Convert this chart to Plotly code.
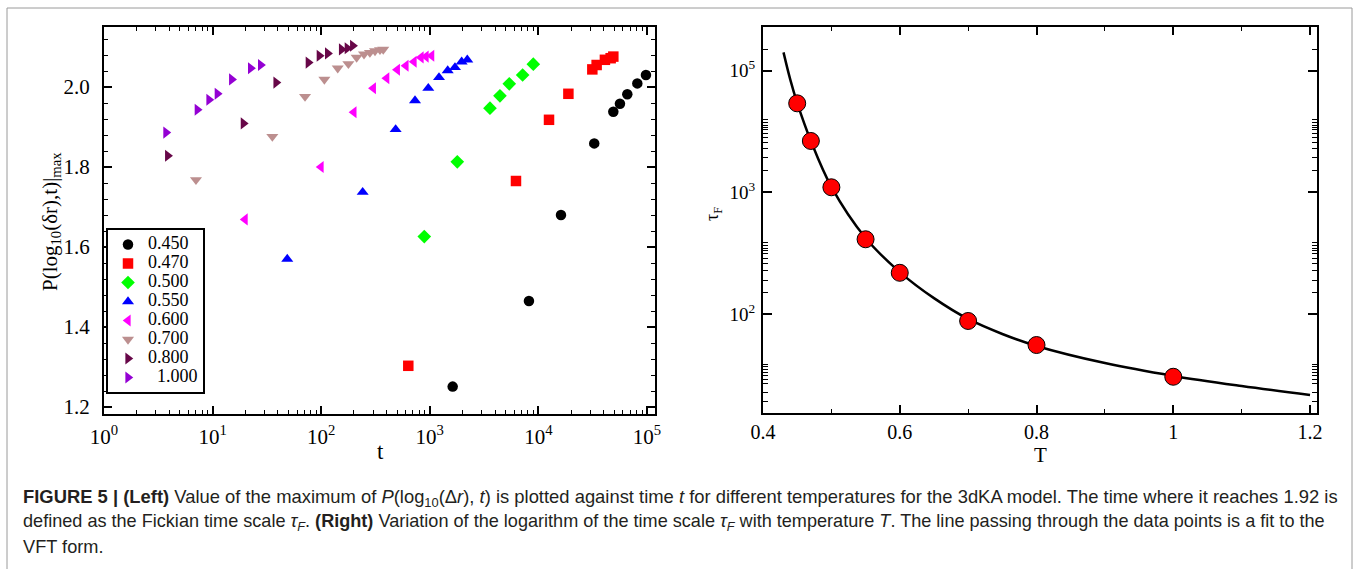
import plotly.graph_objects as go

W, H = 1360, 569

# ---------------- Left panel data ----------------
temps = ["0.450", "0.470", "0.500", "0.550", "0.600", "0.700", "0.800", "\u00a0\u00a01.000"]
symbols = ["circle", "square", "diamond", "triangle-up", "triangle-left",
           "triangle-down", "triangle-right", "triangle-right"]
colors = ["#000000", "#ff0000", "#00ff00", "#0000ff", "#ff00ff",
          "#bc8f8f", "#670748", "#9400d3"]

t_045 = [1625, 8190, 16150, 32700, 49000, 56400, 65900, 81500, 97900]
p_045 = [1.251, 1.465, 1.680, 1.859, 1.938, 1.958, 1.982, 2.009, 2.030]

t_047 = [634, 6220, 12530, 18900, 31400, 34400, 41000, 46300, 49000]
p_047 = [1.303, 1.765, 1.918, 1.983, 2.044, 2.055, 2.068, 2.072, 2.076]

t_050 = [890, 1792, 3583, 4428, 5395, 7163, 8980]
p_050 = [1.626, 1.813, 1.947, 1.978, 2.008, 2.030, 2.057]

t_055 = [48.7, 241, 485, 731, 969, 1216, 1462, 1706, 1966, 2215]
p_055 = [1.570, 1.737, 1.894, 1.966, 1.997, 2.024, 2.041, 2.049, 2.063, 2.068]

t_060 = [19.9, 99.6, 200, 302, 401, 502, 603, 716, 830, 923, 1040]
p_060 = [1.669, 1.800, 1.937, 1.997, 2.022, 2.043, 2.053, 2.063, 2.074, 2.076, 2.078]

t_070 = [7.03, 35.5, 71.0, 107, 142, 178, 212, 248, 281, 313, 348, 373]
p_070 = [1.768, 1.876, 1.976, 2.019, 2.047, 2.058, 2.074, 2.082, 2.086, 2.090, 2.093, 2.094]

t_080 = [3.86, 19.2, 38.4, 76.1, 96.1, 114.7, 154, 174, 195]
p_080 = [1.828, 1.909, 2.011, 2.061, 2.078, 2.084, 2.094, 2.097, 2.103]

t_100 = [3.72, 7.23, 9.27, 11.06, 15.0, 22.4, 27.7]
p_100 = [1.886, 1.943, 1.968, 1.983, 2.019, 2.047, 2.055]

left_t = [t_045, t_047, t_050, t_055, t_060, t_070, t_080, t_100]
left_p = [p_045, p_047, p_050, p_055, p_060, p_070, p_080, p_100]

left_xtickvals = [1, 10, 100, 1000, 10000, 100000]
left_xticktext = ["10<sup>0</sup>", "10<sup>1</sup>", "10<sup>2</sup>",
                  "10<sup>3</sup>", "10<sup>4</sup>", "10<sup>5</sup>"]
left_ytickvals = [1.2, 1.4, 1.6, 1.8, 2.0]
left_yticktext = ["1.2", "1.4", "1.6", "1.8", "2.0"]

# ---------------- Right panel data ----------------
T_pts = [0.45, 0.47, 0.50, 0.55, 0.60, 0.70, 0.80, 1.00]
tau_pts = [5380, 2640, 1099, 411, 218, 87.6, 55.6, 30.5]

T_fit = [0.43, 0.44, 0.45, 0.47, 0.50, 0.55, 0.60, 0.65, 0.70, 0.75, 0.80, 0.90, 1.00, 1.10, 1.20]
tau_fit = [14100, 8380, 5420, 2640, 1107, 421, 221, 135, 91, 68.5, 54.6, 39.5, 31.0, 25.6, 21.6]

right_xtickvals = [0.4, 0.6, 0.8, 1.0, 1.2]
right_xticktext = ["0.4", "0.6", "0.8", "1", "1.2"]
right_ytick_exp = [2.0, 3.0, 3.999]
right_yticktext = ["10<sup>2</sup>", "10<sup>3</sup>", "10<sup>5</sup>"]
right_yminor_exp = [4.175,
                    3.594, 3.572, 3.551, 3.531, 3.512, 3.485, 3.452, 3.413, 3.362, 3.288, 3.177,
                    2.586, 2.565, 2.542, 2.520, 2.493, 2.458, 2.417, 2.356, 2.279, 2.178,
                    1.589, 1.567, 1.546, 1.521, 1.497, 1.463, 1.425, 1.359, 1.279]

caption_lines = [
    "<b>FIGURE 5 | (Left)</b> Value of the maximum of <i>P</i>(log<sub>10</sub>(Δ<i>r</i>), <i>t</i>) is plotted "
    "against time <i>t</i> for different temperatures for the 3dKA model. The time where it reaches 1.92 is",
    "defined as the Fickian time scale <i>τ<sub>F</sub></i>. <b>(Right)</b> Variation of the logarithm of the "
    "time scale <i>τ<sub>F</sub></i> with temperature <i>T</i>. The line passing through the data points is a fit to the",
    "VFT form.",
]
caption_sizes = [18.4, 18.1, 18.2]

# ---------------- Figure ----------------
SERIF = "Liberation Serif, Times New Roman, serif"
CAP = "Liberation Sans, Arial, sans-serif"

fig = go.Figure()

for name, sym, col, tt, pp in zip(temps, symbols, colors, left_t, left_p):
    fig.add_trace(go.Scatter(
        x=tt, y=pp, mode="markers",
        name='<span style="font-size:18px">' + name + "</span>",
        marker=dict(symbol=sym, color=col, size=10.5, line=dict(width=0)),
        xaxis="x", yaxis="y", showlegend=True))

fig.add_trace(go.Scatter(
    x=T_fit, y=tau_fit, mode="lines", line=dict(color="black", width=2.5, shape="spline"),
    xaxis="x2", yaxis="y2", showlegend=False))
fig.add_trace(go.Scatter(
    x=T_pts, y=tau_pts, mode="markers",
    marker=dict(symbol="circle", color="#ff0000", size=17, line=dict(color="black", width=1)),
    xaxis="x2", yaxis="y2", showlegend=False))

def px_x(p):
    return p / W

def px_y(p):
    return 1 - p / H

minor_x_left = [k * 10 ** n for n in range(0, 5) for k in range(2, 10)]

common = dict(showline=True, linecolor="black", linewidth=2, mirror="allticks",
              ticks="inside", tickcolor="black", tickwidth=1.5, showgrid=False,
              zeroline=False, automargin=False,
              tickfont=dict(family=SERIF, size=21, color="black"))

fig.update_layout(
    width=W, height=H, margin=dict(l=0, r=0, t=0, b=0, pad=0, autoexpand=False),
    paper_bgcolor="white", plot_bgcolor="white",
    xaxis=dict(domain=[px_x(104), px_x(655)], type="log", range=[0, 5.074],
               anchor="y", tickmode="array", tickvals=left_xtickvals, ticktext=left_xticktext,
               ticklen=8, ticklabelstandoff=3,
               minor=dict(tickmode="array", tickvals=minor_x_left, ticks="inside", ticklen=4,
                          tickcolor="black", tickwidth=1),
               **common),
    yaxis=dict(domain=[px_y(414), px_y(27)], range=[1.1825, 2.15], anchor="x",
               tickmode="array", tickvals=left_ytickvals, ticktext=left_yticktext,
               ticklen=8, ticklabelstandoff=8,
               minor=dict(tickmode="linear", tick0=1.2, dtick=0.04, ticks="inside", ticklen=4,
                          tickcolor="black", tickwidth=1),
               **common),
    xaxis2=dict(domain=[px_x(763), px_x(1317)], range=[0.4, 1.2102], anchor="y2",
                tickmode="array", tickvals=right_xtickvals, ticktext=right_xticktext,
                ticklen=8, ticklabelstandoff=0,
                minor=dict(tickmode="linear", tick0=0.5, dtick=0.2, ticks="inside", ticklen=4,
                           tickcolor="black", tickwidth=1),
                **{**common, "tickfont": dict(family=SERIF, size=20, color="black")}),
    yaxis2=dict(domain=[px_y(413), px_y(27)], type="log", range=[1.1865, 4.358], anchor="x2",
                tickmode="array", tickvals=[10 ** e for e in right_ytick_exp], ticktext=right_yticktext,
                ticklen=9, ticklabelstandoff=2,
                minor=dict(tickmode="array", tickvals=[10 ** e for e in right_yminor_exp],
                           ticks="inside", ticklen=5, tickcolor="black", tickwidth=1),
                **{**common, "tickfont": dict(family=SERIF, size=19, color="black")}),
    legend=dict(x=px_x(106), y=px_y(228), xanchor="left", yanchor="top",
                bgcolor="white", bordercolor="black", borderwidth=2,
                font=dict(family=SERIF, size=12, color="black"),
                itemwidth=30, tracegroupgap=0),
    showlegend=True,
)

annotations = [
    dict(text="P(log<sub>10</sub>(δr),t)|<sub>max</sub>", x=px_x(51), y=px_y(222), textangle=-90,
         font=dict(family=SERIF, size=21, color="black"), yanchor="middle"),
    dict(text="t", x=px_x(380), y=px_y(451), font=dict(family=SERIF, size=23, color="black"),
         yanchor="middle"),
    dict(text="τ<sub>F</sub>", x=px_x(714), y=px_y(214), textangle=-90,
         font=dict(family=SERIF, size=18, color="black"), yanchor="middle"),
    dict(text="T", x=px_x(1040), y=px_y(442), font=dict(family=SERIF, size=21, color="black"),
         yanchor="top", borderpad=0),
]
for a in annotations:
    a.update(xref="paper", yref="paper", showarrow=False, xanchor="center")

for i, (line, fs) in enumerate(zip(caption_lines, caption_sizes)):
    annotations.append(dict(text=line, x=px_x(21), y=px_y(498 + 24.5 * i), xref="paper", yref="paper",
                            showarrow=False, xanchor="left", yanchor="middle", align="left",
                            font=dict(family=CAP, size=fs, color="#231f20")))

fig.update_layout(annotations=annotations)

fig.add_shape(type="rect", xref="paper", yref="paper",
              x0=px_x(7), x1=px_x(1352), y0=-0.05, y1=px_y(8),
              line=dict(color="#9a9a9a", width=1), fillcolor="rgba(0,0,0,0)", layer="below")

fig.write_html("out.html")
